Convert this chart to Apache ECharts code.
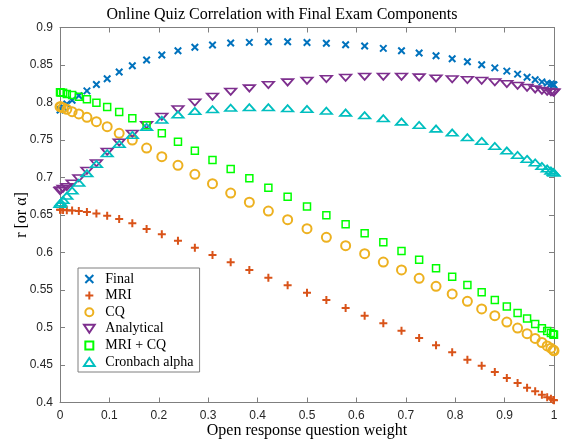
<!DOCTYPE html>
<html><head><meta charset="utf-8">
<script src="https://cdn.jsdelivr.net/npm/echarts@6/dist/echarts.min.js"></script>
<style>html,body{margin:0;padding:0;background:#fff}#c{width:564px;height:443px}</style>
</head><body><div id="c"></div>
<script>
// Open response question weight (x positions of the markers)
const weights = [0, 0.0015, 0.0062, 0.0138, 0.0245, 0.0381, 0.0545, 0.0737, 0.0955, 0.1198, 0.1464, 0.1753, 0.2061, 0.2388, 0.2730, 0.3087, 0.3455, 0.3833, 0.4218, 0.4608, 0.5, 0.5392, 0.5782, 0.6167, 0.6545, 0.6913, 0.7270, 0.7612, 0.7939, 0.8247, 0.8536, 0.8802, 0.9045, 0.9263, 0.9455, 0.9619, 0.9755, 0.9862, 0.9938, 0.9985, 1];

const finalR = [0.790, 0.791, 0.794, 0.798, 0.803, 0.809, 0.8155, 0.824, 0.8317, 0.8407, 0.849, 0.8567, 0.8633, 0.869, 0.8736, 0.8767, 0.8793, 0.8802, 0.881, 0.881, 0.880, 0.879, 0.877, 0.8753, 0.8722, 0.869, 0.866, 0.8624, 0.8584, 0.8544, 0.8504, 0.8462, 0.8418, 0.8378, 0.8336, 0.8304, 0.8275, 0.8258, 0.8247, 0.824, 0.8235];

const mriR = [0.657, 0.657, 0.6568, 0.6565, 0.656, 0.6553, 0.654, 0.652, 0.649, 0.6447, 0.6389, 0.6313, 0.6243, 0.6157, 0.6064, 0.5967, 0.5869, 0.5767, 0.5664, 0.5563, 0.5464, 0.5367, 0.526, 0.5158, 0.5056, 0.4958, 0.486, 0.4763, 0.467, 0.4571, 0.4491, 0.4407, 0.4327, 0.426, 0.4197, 0.415, 0.4104, 0.407, 0.405, 0.4035, 0.403];

const cqR = [0.7944, 0.7942, 0.793, 0.7909, 0.7878, 0.7847, 0.7802, 0.7744, 0.7677, 0.7589, 0.75, 0.7393, 0.7278, 0.7163, 0.7042, 0.6918, 0.6793, 0.667, 0.6553, 0.6438, 0.6317, 0.6203, 0.6091, 0.5984, 0.5873, 0.5767, 0.5656, 0.5549, 0.5447, 0.5349, 0.5247, 0.5158, 0.5073, 0.4993, 0.4918, 0.4855, 0.48, 0.4755, 0.4725, 0.47, 0.469];

const analyticalR = [0.682, 0.683, 0.685, 0.6875, 0.692, 0.699, 0.709, 0.719, 0.7345, 0.7467, 0.7583, 0.77, 0.7811, 0.791, 0.80, 0.8078, 0.8144, 0.8189, 0.8233, 0.8269, 0.8291, 0.8313, 0.833, 0.8344, 0.8344, 0.8344, 0.8336, 0.8322, 0.831, 0.830, 0.829, 0.827, 0.8247, 0.8224, 0.8198, 0.8176, 0.8157, 0.8144, 0.8138, 0.8133, 0.8133];

const mriCqR = [0.8136, 0.8135, 0.8131, 0.8113, 0.81, 0.8078, 0.8042, 0.7998, 0.794, 0.7873, 0.7789, 0.7696, 0.7589, 0.7478, 0.7358, 0.7233, 0.7113, 0.6989, 0.6864, 0.6744, 0.6615, 0.6496, 0.6376, 0.6256, 0.6136, 0.602, 0.5904, 0.5789, 0.5678, 0.5567, 0.5469, 0.5367, 0.528, 0.5195, 0.512, 0.5048, 0.4991, 0.4953, 0.4928, 0.491, 0.4902];

const cronbachAlpha = [0.6645, 0.6665, 0.670, 0.6755, 0.6825, 0.693, 0.7055, 0.718, 0.7322, 0.7447, 0.7567, 0.7672, 0.777, 0.7838, 0.7885, 0.791, 0.793, 0.7936, 0.7936, 0.7922, 0.7913, 0.789, 0.7864, 0.7829, 0.7789, 0.7744, 0.77, 0.7651, 0.7598, 0.7536, 0.7487, 0.742, 0.7358, 0.73, 0.7247, 0.72, 0.7153, 0.7118, 0.7091, 0.7073, 0.7064];

const seriesNames = ['Final', 'MRI', 'CQ', 'Analytical', 'MRI + CQ', 'Cronbach alpha'];
const seriesValues = [finalR, mriR, cqR, analyticalR, mriCqR, cronbachAlpha];

const SERIF = "'Liberation Serif', 'Times New Roman', serif";
const SANS = "'Liberation Sans', Arial, Helvetica, sans-serif";
const AXIS_GRAY = '#7f7f7f';
const LABEL_DARK = '#262626';

const markerStyles = [
  { symbol: 'path://M0,0L10,10M0,10L10,0', size: 6.5, color: '#0072BD', width: 2 },
  { symbol: 'path://M5,0L5,10M0,5L10,5', size: 8, color: '#D95319', width: 2 },
  { symbol: 'circle', size: 9, color: '#EDB120', width: 2 },
  { symbol: 'path://M0,0L12,0L6,9Z', size: [11.3, 8.5], color: '#7E2F8E', width: 1.8 },
  { symbol: 'path://M0,0L10,0L10,10L0,10Z', size: 7, color: '#00FF00', width: 1.5 },
  { symbol: 'path://M6,0L12,9L0,9Z', size: [11.3, 8.5], color: '#00BFBF', width: 1.8 }
];

const chart = echarts.init(document.getElementById('c'), null, { renderer: 'canvas' });

const series = seriesNames.map((name, i) => {
  const m = markerStyles[i];
  return {
    name: name,
    type: 'scatter',
    data: weights.map((w, j) => [w, seriesValues[i][j]]),
    symbol: m.symbol,
    symbolSize: m.size,
    symbolKeepAspect: true,
    itemStyle: { color: 'rgba(0,0,0,0)', borderColor: m.color, borderWidth: m.width, opacity: 1 },
    emphasis: { disabled: true },
    xAxisIndex: 0, yAxisIndex: 0
  };
});

const option = {
  animation: false,
  backgroundColor: '#ffffff',
  title: {
    text: 'Online Quiz Correlation with Final Exam Components',
    left: 'center', top: 2,
    textStyle: { fontFamily: SERIF, fontSize: 16, fontWeight: 'normal', color: '#000' }
  },
  grid: { left: 60, right: 10, top: 27.5, bottom: 40.5, containLabel: false, outerBoundsMode: 'none' },
  legend: {
    orient: 'vertical', left: 78, top: 268,
    data: seriesNames,
    itemWidth: 22, itemHeight: 8, itemGap: 2.6,
    symbolKeepAspect: true,
    padding: [4, 6, 3, 5],
    borderColor: AXIS_GRAY, borderWidth: 1, backgroundColor: '#fff',
    selectedMode: false,
    textStyle: { fontFamily: SERIF, fontSize: 14, color: '#000' }
  },
  xAxis: [{
    type: 'value', min: 0, max: 1, interval: 0.1, position: 'bottom',
    axisLine: { show: true, onZero: false, lineStyle: { color: AXIS_GRAY, width: 1 } },
    axisTick: { show: true, inside: true, length: 5, lineStyle: { color: AXIS_GRAY } },
    axisLabel: { color: LABEL_DARK, fontFamily: SANS, fontSize: 12, margin: 7 },
    splitLine: { show: false },
    name: 'Open response question weight', nameLocation: 'middle', nameGap: 20,
    nameMoveOverlap: false,
    nameTextStyle: { fontFamily: SERIF, fontSize: 16, color: '#000' }
  }, {
    type: 'value', min: 0, max: 1, interval: 0.1, position: 'top',
    axisLine: { show: true, onZero: false, lineStyle: { color: AXIS_GRAY, width: 1 } },
    axisTick: { show: true, inside: true, length: 5, lineStyle: { color: AXIS_GRAY } },
    axisLabel: { show: false }, splitLine: { show: false }
  }],
  yAxis: [{
    type: 'value', min: 0.4, max: 0.9, interval: 0.05, position: 'left',
    axisLine: { show: true, onZero: false, lineStyle: { color: AXIS_GRAY, width: 1 } },
    axisTick: { show: true, inside: true, length: 5, lineStyle: { color: AXIS_GRAY } },
    axisLabel: { color: LABEL_DARK, fontFamily: SANS, fontSize: 12, margin: 7 },
    splitLine: { show: false },
    name: 'r [or α]', nameLocation: 'middle', nameGap: 30, nameRotate: 90,
    nameMoveOverlap: false,
    nameTextStyle: { fontFamily: SERIF, fontSize: 16, color: '#000' }
  }, {
    type: 'value', min: 0.4, max: 0.9, interval: 0.05, position: 'right',
    axisLine: { show: true, onZero: false, lineStyle: { color: AXIS_GRAY, width: 1 } },
    axisTick: { show: true, inside: true, length: 5, lineStyle: { color: AXIS_GRAY } },
    axisLabel: { show: false }, splitLine: { show: false }
  }],
  series: series
};
chart.setOption(option);
</script>
</body></html>
